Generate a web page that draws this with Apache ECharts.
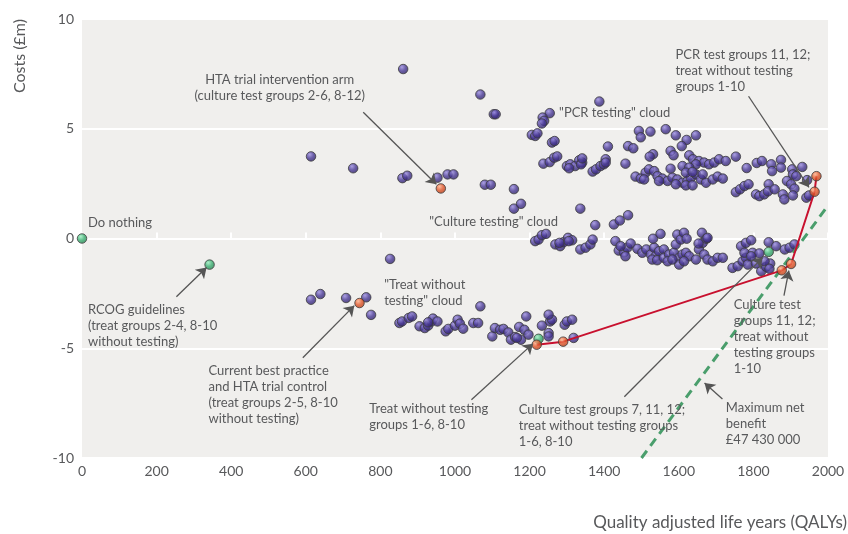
<!DOCTYPE html>
<html>
<head>
<meta charset="utf-8">
<script src="https://cdn.jsdelivr.net/npm/echarts@6/dist/echarts.min.js"></script>
<style>
html,body{margin:0;padding:0;background:#ffffff;}
#c{width:848px;height:534px;}
</style>
</head>
<body>
<div id="c"></div>
<script>
// ---------- DATA (x = QALYs, y = costs £m) ----------
const xTicks = [0, 200, 400, 600, 800, 1000, 1200, 1400, 1600, 1800, 2000];
const yTicks = [-10, -5, 0, 5, 10];

const scatteredPoints = [
  [861,7.72],[1068,6.56],[1104,5.66],[1109,5.66],[614,3.74],[727,3.20],[859,2.75],[872,2.86],
  [953,2.77],[980,2.92],[996,2.92],[1080,2.45],[1096,2.45],[1158,2.25],[1158,1.36],[1177,1.58],[826,-0.93]
];
const pcrCloud = [
  [1387,6.24],[1254,5.71],[1235,5.51],[1239,5.36],[1233,5.24],[1206,4.72],[1215,4.67],[1221,4.79],
  [1260,4.37],[1267,4.44],[1237,3.41],[1254,3.48],[1266,3.68],[1274,3.74],[1300,3.30],[1309,3.38],
  [1322,3.30],[1333,3.56],[1341,3.46],[1338,3.38],[1306,3.20],[1341,3.65],[1369,3.05],[1378,3.15],
  [1390,3.30],[1399,3.38],[1404,3.61],[1404,3.46],[1410,4.19],[1457,3.41],[1464,4.21],[1478,4.11],
  [1493,4.90],[1524,4.87],[1565,4.98],[1592,4.70],[1621,4.49],[1646,4.70],[1498,4.61],[1608,4.21],
  [1578,3.99],[1586,3.79],[1531,3.84],[1522,3.73],
  [1628,3.79],[1638,3.61],[1654,3.53],[1668,3.46],[1681,3.38],[1695,3.46],[1708,3.61],[1726,3.53],
  [1753,3.73],[1646,3.38],[1610,3.30],[1628,3.23],
  [1782,3.21],[1809,3.44],[1823,3.53],[1848,3.38],[1850,3.07],[1874,3.58],[1874,3.23],[1904,3.15],
  [1906,2.92],[1931,3.26],[1944,2.66],[1890,2.62],[1915,2.84],[1901,2.47],
  [1484,2.82],[1498,2.73],[1511,3.00],[1520,3.15],[1534,3.07],[1543,2.84],[1556,2.73],[1570,2.62],
  [1578,3.18],[1583,2.77],[1596,2.69],[1610,2.54],[1623,2.62],[1632,2.77],[1646,2.92],[1659,2.69],
  [1673,2.54],[1691,2.69],[1704,2.82],[1718,2.73],[1507,2.69],[1547,2.62],[1592,2.47],[1619,2.42],
  [1637,2.42],[1664,2.92],[1619,3.00],[1637,3.03],
  [1753,2.11],[1764,2.24],[1776,2.39],[1787,2.47],[1807,2.01],[1816,1.93],[1829,2.01],[1841,2.47],
  [1839,2.15],[1857,2.24],[1879,2.01],[1883,1.78],[1910,2.27],[1906,1.96],[1942,1.86],[1949,1.96]
];
const cultureCloud = [
  [1336,1.36],[1376,0.61],[1426,0.64],[1442,0.82],[1464,1.06],
  [1215,-0.12],[1224,-0.05],[1233,0.15],[1244,0.21],
  [1269,-0.27],[1282,-0.35],[1291,-0.17],[1303,0.03],[1314,-0.08],[1280,-0.20],[1305,-0.12],
  [1336,-0.50],[1350,-0.42],[1363,-0.27],[1369,-0.05],
  [1430,-0.12],[1439,-0.55],[1453,-0.63],[1462,-0.42],[1471,-0.23],[1457,-0.81],[1444,-0.35],
  [1489,-0.47],[1502,-0.65],[1513,-0.50],[1525,-0.73],[1534,-0.42],[1538,-0.81],[1547,-0.58],
  [1560,-0.50],[1531,-0.01],[1551,0.21],[1529,-0.96],[1542,-0.99],[1560,-0.88],[1574,-0.73],
  [1570,-1.04],[1587,-0.65],[1592,-0.27],[1596,0.18],[1605,-0.05],[1614,0.26],[1621,-0.01],
  [1601,-0.88],[1610,-0.73],[1619,-0.65],[1628,-0.81],[1601,-1.19],[1583,-0.96],[1614,-1.04],
  [1646,-0.96],[1654,-0.50],[1664,-0.20],[1662,0.26],[1674,-0.01],[1668,-0.73],[1677,-0.96],
  [1691,-1.04],[1704,-0.88],[1718,-0.88],[1653,-0.23],[1677,0.03],
  [1767,-0.35],[1780,-0.20],[1794,-0.08],[1744,-1.34],[1758,-1.26],[1771,-1.04],[1780,-0.88],
  [1798,-0.65],[1816,-0.68],[1785,-1.19],[1807,-1.14],[1821,-1.49],[1834,-1.29],[1845,-1.14],
  [1841,-0.17],[1861,-0.35],[1884,-0.50],[1897,-0.42],[1910,-0.27],[1830,-1.04],[1776,-0.65],
  [1794,-0.81],[1843,-1.38]
];
const treatCloud = [
  [614,-2.79],[639,-2.53],[708,-2.71],[762,-2.68],[775,-3.48],[1068,-3.09],
  [851,-3.85],[858,-3.78],[876,-3.62],[885,-3.55],
  [905,-4.00],[919,-4.08],[928,-3.97],[937,-3.78],[941,-3.65],[953,-3.78],[928,-3.82],
  [975,-4.23],[982,-4.12],[1000,-3.97],[1007,-3.70],[1013,-3.88],[1022,-4.11],
  [1049,-3.85],[1062,-3.85],
  [1100,-4.46],[1107,-4.08],[1121,-4.16],[1130,-4.12],[1143,-4.28],[1150,-4.61],[1161,-4.49],
  [1172,-4.03],[1177,-4.61],[1186,-4.16],[1197,-4.38],[1191,-3.55],
  [1233,-3.97],[1251,-4.31],[1255,-3.78],[1260,-3.70],[1251,-3.47],[1251,-4.46],[1294,-3.93],
  [1300,-3.78],[1314,-3.70],[1318,-4.53],[1166,-4.53]
];
const greenPoints = [[0,0],[342,-1.19],[1224,-4.57],[1841,-0.61]];
const orangePoints = [[744,-2.94],[962,2.28],[1219,-4.84],[1290,-4.70],[1876,-1.45],[1901,-1.16],[1964,2.13],[1969,2.84]];
const frontier = [[1219,-4.84],[1290,-4.70],[1876,-1.45],[1901,-1.16],[1964,2.13],[1969,2.84]];
const netBenefitLine = [[1500,-10],[2000,1.5]];

// annotation texts: [x, y (top-left / top-centre anchor in data units), text, align]
const annotations = [
  [16, 1.10, 'Do nothing', 'left'],
  [16, -2.88, 'RCOG guidelines\n(treat groups 2-4, 8-10\nwithout testing)', 'left'],
  [339, -5.66, 'Current best practice\nand HTA trial control\n(treat groups 2-5, 8-10\nwithout testing)', 'left'],
  [530, 7.58, 'HTA trial intervention arm\n(culture test groups 2-6, 8-12)', 'center'],
  [810, -1.74, '"Treat without\ntesting" cloud', 'left'],
  [931, 1.14, '"Culture testing" cloud', 'left'],
  [1279, 6.07, '"PCR testing" cloud', 'left'],
  [1591, 8.72, 'PCR test groups 11, 12;\ntreat without testing\ngroups 1-10', 'left'],
  [770, -7.40, 'Treat without testing\ngroups 1-6, 8-10', 'left'],
  [1171, -7.44, 'Culture test groups 7, 11, 12;\ntreat without testing groups\n1-6, 8-10', 'left'],
  [1747, -2.65, 'Culture test\ngroups 11, 12;\ntreat without\ntesting groups\n1-10', 'left'],
  [1726, -7.35, 'Maximum net\nbenefit\n£47 430 000', 'left']
];
// arrows: [from, to]
const arrows = [
  [[754,5.75],[950,2.47]],
  [[253,-2.65],[334,-1.32]],
  [[592,-5.43],[730,-3.06]],
  [[1044,-7.35],[1209,-4.79]],
  [[1454,-7.21],[1825,-0.87]],
  [[1882,-2.60],[1895,-1.46]],
  [[1717,-7.31],[1669,-6.58]],
  [[1787,6.48],[1949,2.33]]
];

// ---------- STYLE ----------
const FONT = 'Lato';
const TXT = '#58595b';
function ball(c1, c2, c3) {
  return {type:'radial', x:0.38, y:0.32, r:0.8,
    colorStops:[{offset:0,color:c1},{offset:0.45,color:c2},{offset:1,color:c3}]};
}
const purpleStyle = {color: ball('#9a8ce0','#4a3a96','#24175a'), borderColor:'#3c3c3c', borderWidth:1};
const greenStyle = {color: ball('#9aeebf','#3aad70','#1f7a48'), borderColor:'#3c3c3c', borderWidth:1};
const orangeStyle = {color: ball('#ffb08a','#e0562a','#a83410'), borderColor:'#3c3c3c', borderWidth:1};

const chart = echarts.init(document.getElementById('c'), null, {renderer:'canvas'});
function scat(name, data, style, z) {
  return {type:'scatter', name, data, symbolSize:9.5, itemStyle:style, z, clip:false, silent:true, animation:false};
}
chart.setOption({
  animation:false,
  textStyle:{fontFamily:FONT},
  grid:{left:82, right:20, top:19, bottom:76, show:true, backgroundColor:'#f0efed', borderWidth:0},
  xAxis:{type:'value', min:xTicks[0], max:xTicks[xTicks.length-1], interval:200,
    axisLine:{show:false},
    axisTick:{show:true, inside:true, length:6, lineStyle:{color:'#ffffff', width:2}},
    splitLine:{show:false},
    axisLabel:{color:TXT, fontSize:14, margin:6, fontFamily:FONT, formatter: v => String(v)}},
  yAxis:{type:'value', min:yTicks[0], max:yTicks[yTicks.length-1], interval:5,
    axisLine:{show:false}, axisTick:{show:false},
    splitLine:{show:true, lineStyle:{color:'#ffffff', width:2}},
    axisLabel:{color:TXT, fontSize:14, margin:8, fontFamily:FONT, formatter: v => String(v)}},
  series:[
    scat('scattered', scatteredPoints, purpleStyle, 2),
    scat('pcr', pcrCloud, purpleStyle, 2),
    scat('culture', cultureCloud, purpleStyle, 2),
    scat('treat', treatCloud, purpleStyle, 2),
    {type:'line', data:netBenefitLine, symbol:'none', z:3, silent:true,
      lineStyle:{color:'#4a9e6c', width:3, type:[9,6]}},
    {type:'line', data:frontier, symbol:'none', z:4, silent:true,
      lineStyle:{color:'#c8102e', width:2}},
    scat('green', greenPoints, greenStyle, 5),
    scat('orange', orangePoints, orangeStyle, 5),
    {type:'lines', coordinateSystem:'cartesian2d', z:6, silent:true,
      symbol:['none','arrow'], symbolSize:[0,10],
      lineStyle:{color:'#555555', width:1.3, opacity:1},
      data: arrows.map(a => ({coords:a}))}
  ]
});

const graphics = [];
annotations.forEach(a => {
  const p = chart.convertToPixel({gridIndex:0}, [a[0], a[1]]);
  graphics.push({type:'text', x:p[0], y:p[1], z:10, silent:true,
    style:{text:a[2], fill:TXT, font:'13px ' + FONT, lineHeight:16,
      align:a[3], verticalAlign:'top'}});
});
graphics.push({type:'text', x:847, y:514, z:10, silent:true,
  style:{text:'Quality adjusted life years (QALYs)', fill:TXT, font:'17px ' + FONT, align:'right', verticalAlign:'top'}});
graphics.push({type:'text', x:20, y:56, rotation:Math.PI/2, z:10, silent:true,
  style:{text:'Costs (£m)', fill:TXT, font:'16px ' + FONT, align:'center', verticalAlign:'middle'}});
chart.setOption({graphic:graphics});
</script>
</body>
</html>
